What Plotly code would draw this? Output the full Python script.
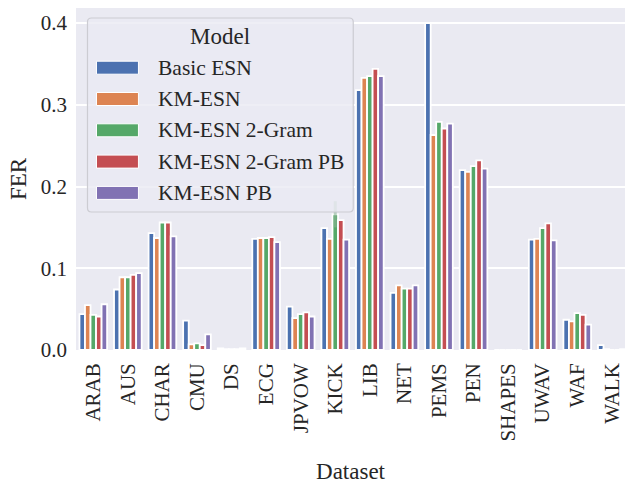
import plotly.graph_objects as go

# Frame error rate per dataset for each model variant
datasets = ["ARAB", "AUS", "CHAR", "CMU", "DS", "ECG", "JPVOW", "KICK",
            "LIB", "NET", "PEMS", "PEN", "SHAPES", "UWAV", "WAF", "WALK"]
models = ["Basic ESN", "KM-ESN", "KM-ESN 2-Gram", "KM-ESN 2-Gram PB", "KM-ESN PB"]

basic_esn = [0.044, 0.074, 0.143, 0.036, 0.002, 0.136, 0.053, 0.149,
             0.318, 0.070, 0.400, 0.220, 0.0, 0.135, 0.037, 0.006]
km_esn = [0.055, 0.089, 0.137, 0.007, 0.001, 0.137, 0.039, 0.136,
          0.333, 0.079, 0.263, 0.218, 0.0, 0.136, 0.035, 0.001]
km_esn_2gram = [0.043, 0.089, 0.156, 0.008, 0.001, 0.137, 0.044, 0.166,
                0.335, 0.075, 0.279, 0.225, 0.0, 0.149, 0.045, 0.0]
km_esn_2gram_pb = [0.041, 0.092, 0.156, 0.006, 0.001, 0.138, 0.046, 0.159,
                   0.344, 0.075, 0.271, 0.232, 0.0, 0.155, 0.043, 0.0]
km_esn_pb = [0.056, 0.094, 0.139, 0.019, 0.002, 0.132, 0.041, 0.135,
             0.335, 0.079, 0.277, 0.222, 0.0, 0.134, 0.031, 0.001]

# spread across runs (only KICK / 2-Gram shows a visible interval)
km_esn_2gram_err = [0, 0, 0, 0, 0, 0, 0, 0.016, 0, 0, 0, 0, 0, 0, 0, 0]

series = [basic_esn, km_esn, km_esn_2gram, km_esn_2gram_pb, km_esn_pb]
colors = ["#4C72B0", "#DD8452", "#55A868", "#C44E52", "#8172B3"]

FONT = "Liberation Serif, Times New Roman, serif"
TXT = "#262626"
W, H = 625, 484
L, R, T, B = 75.5, 0, 8, 134
PW, PH = W - L - R, H - T - B
STEP = 34.6  # pixels per category


def px(x):
    return (x - L) / PW


def py(y):
    return (H - B - y) / PH


fig = go.Figure()
for name, vals, col in zip(models, series, colors):
    err = None
    if name == "KM-ESN 2-Gram":
        err = dict(type="data", array=km_esn_2gram_err, visible=True,
                   color="rgba(140,180,150,0.6)", thickness=3, width=0)
    fig.add_trace(go.Bar(
        x=datasets, y=vals, name=name, error_y=err,
        marker=dict(color=col, line=dict(color="white", width=1.8)),
        showlegend=False,
    ))

# legend box drawn as rounded panel
x0, x1, y0, y1, r = px(87), px(353), py(18), py(212), 4
rx, ry = r / PW, r / PH
path = (f"M{x0+rx},{y0} L{x1-rx},{y0} Q{x1},{y0} {x1},{y0-ry} "
        f"L{x1},{y1+ry} Q{x1},{y1} {x1-rx},{y1} L{x0+rx},{y1} "
        f"Q{x0},{y1} {x0},{y1+ry} L{x0},{y0-ry} Q{x0},{y0} {x0+rx},{y0} Z")
shapes = [dict(type="path", xref="paper", yref="paper", path=path,
               fillcolor="rgba(234,234,242,0.8)",
               line=dict(color="#CCCCD2", width=1.2), layer="above")]
annotations = [dict(xref="paper", yref="paper", x=px(220), y=py(37),
                    text="Model", showarrow=False,
                    font=dict(family=FONT, size=23, color=TXT),
                    xanchor="center", yanchor="middle")]
for i, (name, col) in enumerate(zip(models, colors)):
    cy = 67.7 + i * 31.3
    shapes.append(dict(type="rect", xref="paper", yref="paper",
                       x0=px(96), x1=px(138), y0=py(cy - 6.5), y1=py(cy + 6.5),
                       fillcolor=col, line=dict(color="white", width=1),
                       layer="above"))
    annotations.append(dict(xref="paper", yref="paper", x=px(156), y=py(cy),
                            text=name, showarrow=False,
                            font=dict(family=FONT, size=21.5, color=TXT),
                            xanchor="left", yanchor="middle"))

fig.update_layout(
    width=W, height=H,
    margin=dict(l=L, r=R, t=T, b=B),
    paper_bgcolor="white", plot_bgcolor="#EAEAF2",
    barmode="group", bargap=0.2, bargroupgap=0.0,
    font=dict(family=FONT, size=21, color=TXT),
    shapes=shapes, annotations=annotations,
    showlegend=False,
)
fig.update_xaxes(
    title=dict(text="Dataset", font=dict(size=23), standoff=22),
    tickangle=-90, showgrid=False, zeroline=False, showline=False,
    ticks="", ticklabelstandoff=8, range=[-0.5, -0.5 + PW / STEP],
)
fig.update_yaxes(
    title=dict(text="FER", font=dict(size=23), standoff=7),
    range=[0, 0.4184], tickvals=[0, 0.1, 0.2, 0.3, 0.4], tickformat=".1f",
    showgrid=True, gridcolor="white", gridwidth=1.5, zeroline=False,
    showline=False, ticks="", ticklabelstandoff=8,
)

fig.write_html("out.html")
